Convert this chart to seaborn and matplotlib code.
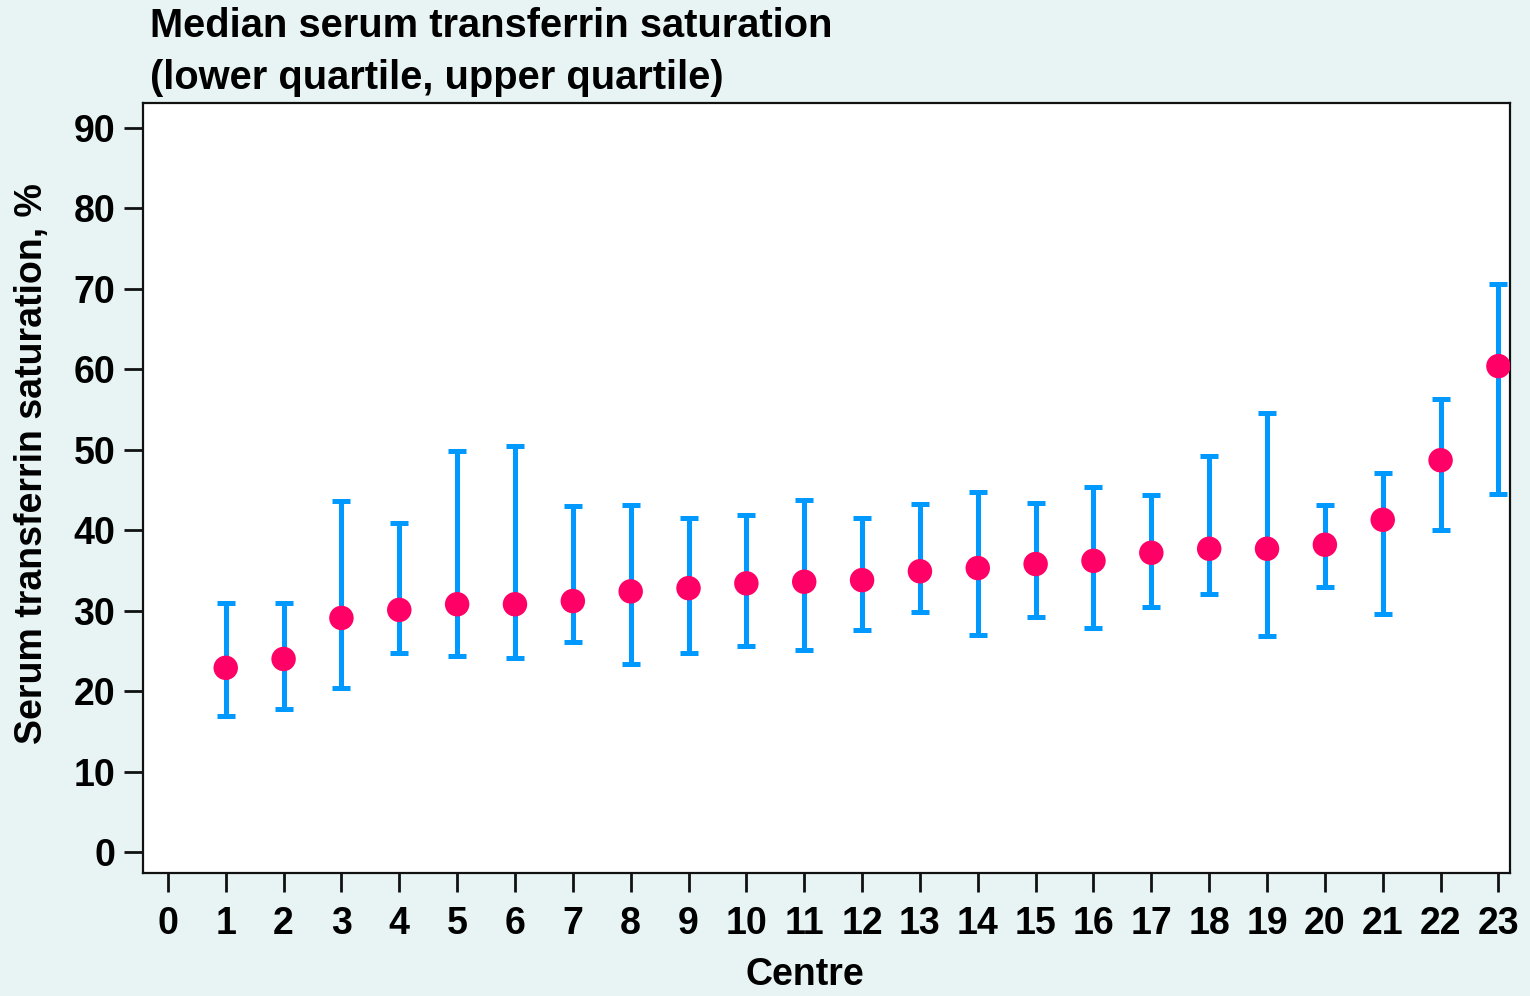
import numpy as np
import pandas as pd
import matplotlib
matplotlib.use('Agg')
import matplotlib.pyplot as plt
import seaborn as sns

# Data
centre = list(range(1, 24))
median = [22.9, 24.0, 29.1, 30.1, 30.8, 30.8, 31.2, 32.4, 32.8, 33.4, 33.6, 33.8,
          34.9, 35.3, 35.8, 36.2, 37.2, 37.7, 37.7, 38.2, 41.3, 48.7, 60.4]
upper_q = [30.95, 31.0, 43.6, 40.9, 49.9, 50.5, 43.0, 43.1, 41.5, 41.9, 43.8, 41.5,
           43.3, 44.8, 43.4, 45.4, 44.4, 49.2, 54.6, 43.1, 47.1, 56.3, 70.6]
lower_q = [16.9, 17.8, 20.4, 24.7, 24.4, 24.1, 26.1, 23.4, 24.7, 25.6, 25.1, 27.6,
           29.8, 27.0, 29.2, 27.8, 30.5, 32.1, 26.9, 32.9, 29.6, 40.0, 44.5]
x_ticks = list(range(0, 24))
y_ticks = list(range(0, 100, 10))

df = pd.DataFrame({'Centre': centre, 'median': median, 'lq': lower_q, 'uq': upper_q})

sns.set_style('ticks')
plt.rcParams['font.family'] = ['Liberation Sans', 'DejaVu Sans']
plt.rcParams['font.weight'] = 'bold'
plt.rcParams['text.color'] = 'black'
plt.rcParams['axes.labelcolor'] = 'black'
plt.rcParams['xtick.color'] = 'black'
plt.rcParams['ytick.color'] = 'black'

bg = '#E8F4F4'
fig = plt.figure(figsize=(15.3, 9.96), dpi=100, facecolor=bg)
ax = fig.add_axes([143 / 1530, 1 - 873 / 996, (1510 - 143) / 1530, (873 - 103) / 996])
ax.set_facecolor('white')

# quartile bars
ax.errorbar(df['Centre'], df['median'],
            yerr=[df['median'] - df['lq'], df['uq'] - df['median']],
            fmt='none', ecolor='#0099FF', elinewidth=3.6, capsize=6.5, capthick=3.6, zorder=2)
# medians
sns.scatterplot(data=df, x='Centre', y='median', s=310, color='#FF0066',
                edgecolor='none', ax=ax, zorder=3)

ax.set_xlim(-0.43, 23.2)
ax.set_ylim(-2.6, 93.1)
ax.set_xticks(x_ticks)
ax.set_yticks(y_ticks)
ax.tick_params(axis='both', direction='out', length=14, width=2, labelsize=27, color='#111111')
ax.tick_params(axis='x', pad=10)
ax.tick_params(axis='y', pad=6)
for lab in ax.get_xticklabels() + ax.get_yticklabels():
    lab.set_fontweight('bold')
for sp in ax.spines.values():
    sp.set_linewidth(1.6)
    sp.set_color('#111111')

ax.set_xlabel('Centre', fontsize=27, fontweight='bold')
ax.set_ylabel('Serum transferrin saturation, %', fontsize=27, fontweight='bold')
ax.xaxis.set_label_coords((805 - 143) / (1510 - 143), -(975 - 873) / (873 - 103))
ax.xaxis.label.set_va('center')
ax.yaxis.set_label_coords(-(143 - 32) / (1510 - 143), (873 - 464) / (873 - 103))
ax.yaxis.label.set_va('center')

fig.text(150 / 1530, 1 - 26 / 996, 'Median serum transferrin saturation',
         fontsize=28.7, fontweight='bold', ha='left', va='center')
fig.text(150 / 1530, 1 - 78 / 996, '(lower quartile, upper quartile)',
         fontsize=28.7, fontweight='bold', ha='left', va='center')

fig.savefig('out.png', dpi=100, facecolor=bg)
